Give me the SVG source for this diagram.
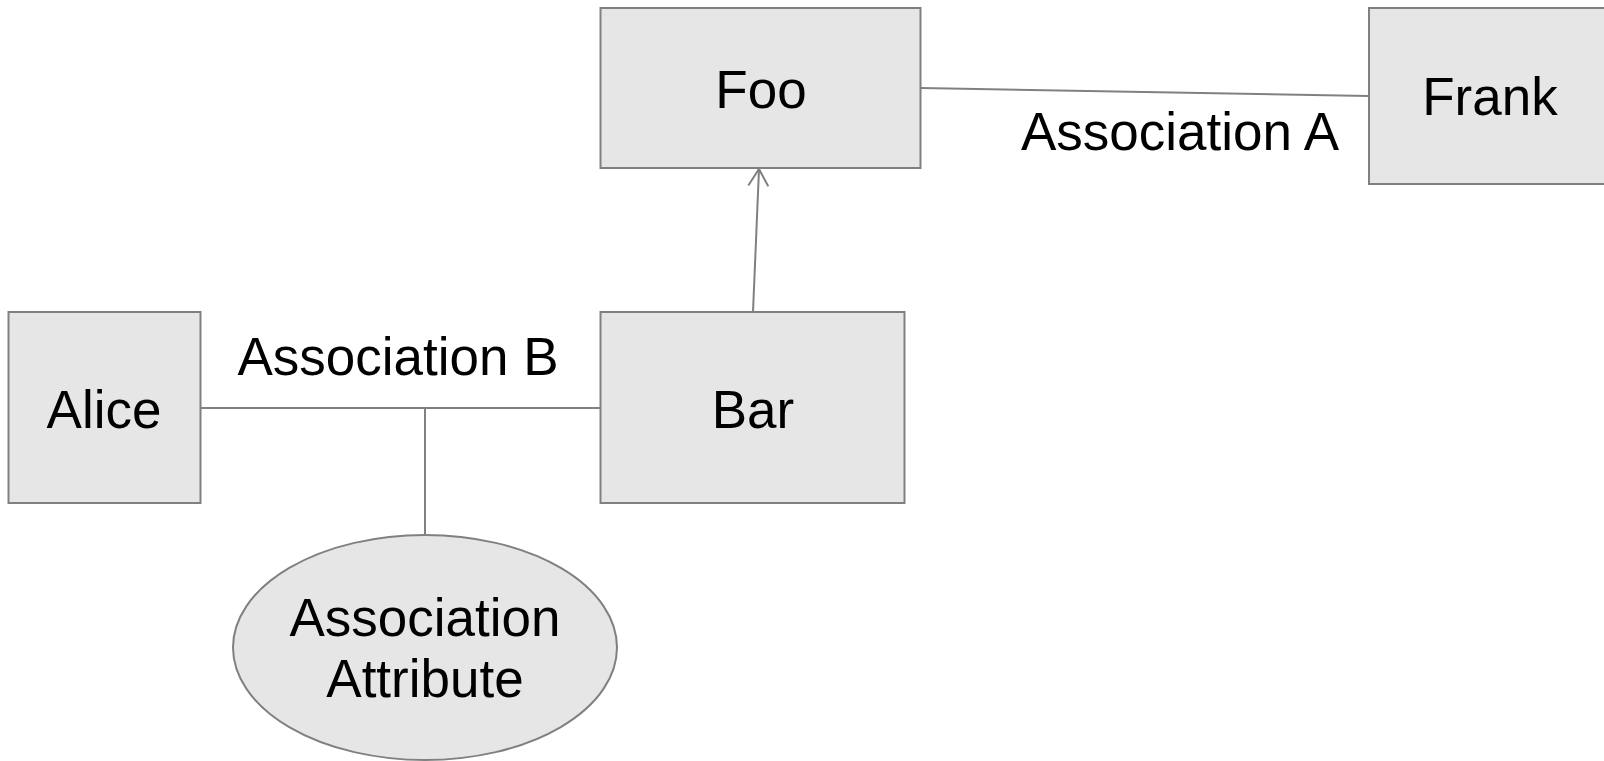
<svg xmlns="http://www.w3.org/2000/svg" width="1604" height="761" viewBox="0 0 1604 761">
<style>
.box{fill:#e6e6e6;stroke:#808080;stroke-width:2}
.ln{fill:none;stroke:#808080;stroke-width:2}
text{font-family:"Liberation Sans",Arial,sans-serif;font-size:53px;fill:#000;text-anchor:middle}
</style>
<defs>
<marker id="open" markerWidth="20" markerHeight="24" refX="18" refY="12" orient="auto" markerUnits="userSpaceOnUse">
<path d="M1,2 L18,12 L1,22" fill="none" stroke="#808080" stroke-width="2"/>
</marker>
</defs>
<rect width="1604" height="761" fill="#fff"/>
<g id="connectors">
<line class="ln" x1="921" y1="88" x2="1369" y2="96"/>
<line class="ln" x1="753" y1="312" x2="759" y2="169" marker-end="url(#open)"/>
<line class="ln" x1="200" y1="408" x2="600" y2="408"/>
<line class="ln" x1="425" y1="408" x2="425" y2="535"/>
<text x="1180" y="150">Association A</text>
<text x="398" y="375">Association B</text>
</g>
<g id="foo"><rect class="box" x="600.5" y="8" width="320" height="160"/><text x="761" y="108">Foo</text></g>
<g id="frank"><rect class="box" x="1369" y="8" width="250" height="176"/><text x="1490" y="115">Frank</text></g>
<g id="alice"><rect class="box" x="8.5" y="312" width="192" height="191"/><text x="104" y="428">Alice</text></g>
<g id="bar"><rect class="box" x="600.5" y="312" width="304" height="191"/><text x="753" y="428">Bar</text></g>
<g id="attr"><ellipse class="box" cx="425" cy="647.5" rx="192" ry="112.5"/><text x="425" y="636">Association</text><text x="425" y="697">Attribute</text></g>
</svg>
